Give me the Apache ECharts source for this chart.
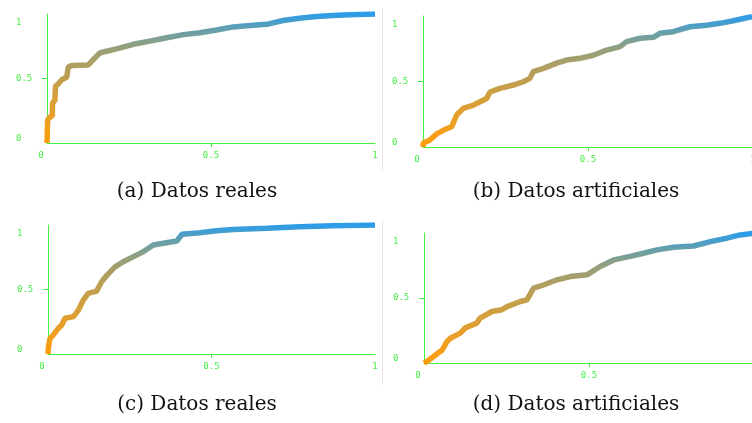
<!DOCTYPE html>
<html>
<head>
<meta charset="utf-8">
<title>cdf-cuatro</title>
<script src="https://cdn.jsdelivr.net/npm/echarts@6/dist/echarts.min.js"></script>
<style>
  html, body { margin: 0; padding: 0; background: #fff; }
  #main { width: 752px; height: 423px; }
</style>
</head>
<body>
<div id="main"></div>
<script>
// valores, [x, F(x)]
var realesA = [[0,0],[0.002,0.18],[0.009,0.20],[0.016,0.21],[0.017,0.31],[0.024,0.33],[0.026,0.44],
  [0.035,0.46],[0.045,0.49],[0.06,0.51],[0.065,0.59],[0.075,0.60],[0.126,0.605],[0.146,0.66],
  [0.162,0.70],[0.212,0.73],[0.263,0.765],[0.314,0.79],[0.365,0.816],[0.416,0.84],[0.466,0.855],
  [0.517,0.876],[0.568,0.90],[0.62,0.91],[0.67,0.92],[0.72,0.95],[0.77,0.967],[0.822,0.98],
  [0.872,0.988],[0.924,0.995],[1.0,1.0]];
var artificialesB = [[0,0],[0.001,0.03],[0.021,0.053],[0.041,0.10],[0.072,0.14],[0.087,0.155],
  [0.102,0.244],[0.122,0.295],[0.153,0.32],[0.193,0.37],[0.203,0.42],[0.233,0.448],[0.274,0.473],
  [0.304,0.498],[0.324,0.524],[0.334,0.575],[0.365,0.60],[0.405,0.64],[0.435,0.664],[0.476,0.677],
  [0.516,0.70],[0.557,0.74],[0.597,0.766],[0.617,0.804],[0.658,0.83],[0.698,0.837],[0.718,0.868],
  [0.758,0.88],[0.809,0.918],[0.86,0.93],[0.90,0.944],[0.94,0.964],[0.997,0.995]];
var realesC = [[0,0],[0.001,0.05],[0.006,0.12],[0.016,0.147],[0.032,0.20],[0.042,0.225],
  [0.052,0.277],[0.078,0.29],[0.093,0.34],[0.108,0.418],[0.123,0.47],[0.149,0.488],[0.164,0.56],
  [0.18,0.61],[0.205,0.675],[0.23,0.715],[0.26,0.753],[0.29,0.79],[0.322,0.845],[0.353,0.858],
  [0.394,0.876],[0.41,0.928],[0.465,0.94],[0.516,0.956],[0.567,0.966],[0.67,0.974],[0.77,0.987],
  [0.872,0.995],[1.0,1.0]];
var artificialesD = [[0,0],[0.009,0.012],[0.029,0.05],[0.055,0.10],[0.07,0.166],[0.08,0.19],
  [0.11,0.23],[0.125,0.27],[0.16,0.307],[0.17,0.345],[0.206,0.396],[0.236,0.41],[0.252,0.434],
  [0.292,0.473],[0.312,0.486],[0.332,0.576],[0.362,0.60],[0.403,0.64],[0.443,0.665],[0.494,0.678],
  [0.534,0.742],[0.575,0.793],[0.625,0.82],[0.665,0.844],[0.706,0.87],[0.756,0.89],[0.817,0.90],
  [0.868,0.934],[0.918,0.96],[0.958,0.985],[0.995,0.997]];

var captions = ['(a) Datos reales', '(b) Datos artificiales', '(c) Datos reales', '(d) Datos artificiales'];
var tickLabels = [0, 0.5, 1];

var verde = '#44ee44';
var paneles = [
  {left: 47, top: 14, width: 328, height: 129, datos: realesA},
  {left: 423, top: 16, width: 330, height: 131, datos: artificialesB},
  {left: 48, top: 225, width: 327, height: 129, datos: realesC},
  {left: 424, top: 233, width: 330, height: 130, datos: artificialesD}
];

var mono = 'DejaVu Sans Mono';

var grids = [], xs = [], ys = [], series = [];
paneles.forEach(function (p, i) {
  grids.push({left: p.left, top: p.top, width: p.width, height: p.height, outerBoundsMode: 'none'});
  xs.push({
    type: 'value', gridIndex: i, min: 0, max: 1, interval: 0.5,
    axisLine: {show: true, lineStyle: {color: verde, width: 1}},
    axisTick: {show: true, length: 4, customValues: [0.5], lineStyle: {color: verde}},
    splitLine: {show: false},
    axisLabel: {
      margin: 8, customValues: tickLabels,
      formatter: function (v) { return v === 0 ? '{z|0}' : (v === 0.5 ? '0.5' : '1'); },
      rich: {z: {padding: [0, 12, 0, 0], fontFamily: mono, fontSize: 9, color: verde}},
      fontFamily: mono, fontSize: 9, color: verde
    }
  });
  ys.push({
    type: 'value', gridIndex: i, min: 0, max: 1, interval: 0.5,
    axisLine: {show: true, lineStyle: {color: verde, width: 1}},
    axisTick: {show: true, length: 5, customValues: [0.5], lineStyle: {color: verde}},
    splitLine: {show: false},
    axisLabel: {
      margin: 31, align: 'left', customValues: tickLabels,
      formatter: function (v) { return v === 0 ? '{b|0}' : (v === 0.5 ? '0.5' : '{t|1}'); },
      rich: {
        t: {padding: [18, 0, 0, 0], fontFamily: mono, fontSize: 9, color: verde},
        b: {padding: [0, 0, 8, 0], fontFamily: mono, fontSize: 9, color: verde}
      },
      fontFamily: mono, fontSize: 9, color: verde
    }
  });
  series.push({
    type: 'line', xAxisIndex: i, yAxisIndex: i, data: p.datos,
    showSymbol: false, lineStyle: {width: 5.5, opacity: 0.95}, silent: true
  });
});

var chart = echarts.init(document.getElementById('main'));
chart.setOption({
  animation: false,
  grid: grids,
  xAxis: xs,
  yAxis: ys,
  visualMap: {
    show: false, type: 'continuous', dimension: 1, min: 0, max: 1,
    seriesIndex: [0, 1, 2, 3],
    inRange: {color: ['#ff9700', '#f39a10', '#e39a22', '#d09a32', '#bd9a45', '#a89a5c', '#8c9a76', '#5e9aa6', '#2097e8']}
  },
  series: series,
  graphic: [
    {type: 'line', shape: {x1: 382.5, y1: 8, x2: 382.5, y2: 170}, style: {stroke: '#e6e6e6', lineWidth: 1}},
    {type: 'line', shape: {x1: 382.5, y1: 220, x2: 382.5, y2: 385}, style: {stroke: '#e6e6e6', lineWidth: 1}},
    {type: 'text', x: 197, y: 192, style: {text: captions[0], font: '20px "DejaVu Serif"', fill: '#111', align: 'center', verticalAlign: 'middle'}},
    {type: 'text', x: 576, y: 192, style: {text: captions[1], font: '20px "DejaVu Serif"', fill: '#111', align: 'center', verticalAlign: 'middle'}},
    {type: 'text', x: 197, y: 405, style: {text: captions[2], font: '20px "DejaVu Serif"', fill: '#111', align: 'center', verticalAlign: 'middle'}},
    {type: 'text', x: 576, y: 405, style: {text: captions[3], font: '20px "DejaVu Serif"', fill: '#111', align: 'center', verticalAlign: 'middle'}}
  ]
});
</script>
</body>
</html>
